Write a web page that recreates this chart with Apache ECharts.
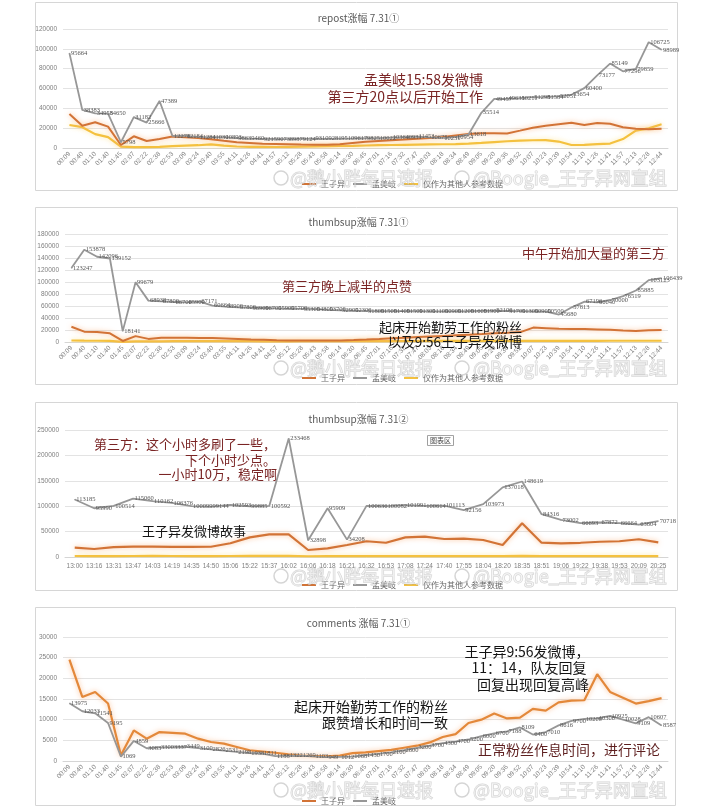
<!DOCTYPE html>
<html><head><meta charset="utf-8">
<script src="https://cdn.jsdelivr.net/npm/echarts/dist/echarts.min.js"></script>
<style>html,body{margin:0;padding:0;background:#fff}#c{width:717px;height:809px}</style>
</head><body><div id="c"></div>
<script>
// ---------- data ----------
const timesAM = ["00:09","00:40","01:10","01:40","01:45","02:07","02:22","02:38","02:53","03:09","03:24","03:40","03:55","04:11","04:26","04:41","04:57","05:12","05:28","05:43","05:58","06:14","06:30","06:45","07:01","07:16","07:32","07:47","08:03","08:18","08:34","08:49","09:05","09:20","09:36","09:52","10:07","10:23","10:39","10:54","11:10","11:26","11:41","11:57","12:13","12:28","12:44"];
const timesPM = ["13:00","13:16","13:31","13:47","14:03","14:19","14:35","14:50","15:06","15:22","15:37","16:02","16:06","16:18","16:21","16:32","16:53","17:08","17:24","17:40","17:55","18:04","18:20","18:35","18:51","19:06","19:22","19:38","19:53","20:09","20:25"];

const repostMeng = [95664,38383,34958,34650,5798,31182,25666,47389,12278,12184,11284,11030,10893,9863,9460,9215,9073,8987,9124,9310,9281,9510,9617,9825,10022,10364,10931,11453,10675,10231,10954,13618,35514,49457,49631,50211,51298,51584,52051,53654,60400,73177,85149,77296,79859,106725,98989];
const repostWang = [34300,22500,26000,21500,3000,11800,7000,9000,11500,10800,10000,8800,7200,5800,5000,4200,4000,3800,3500,3300,3400,3800,5000,6200,7000,7800,8500,9300,10000,11000,12500,14000,14800,14900,14700,17500,20500,22500,24000,25500,23200,25200,24500,21000,19500,18800,19500];
const repostRef  = [23200,21000,14000,11000,1300,800,900,1200,1800,2300,2800,3600,2400,1500,1200,1100,1000,1200,1400,1600,1800,2000,2200,2500,2800,3000,3200,3400,3600,3800,4000,4500,5200,6000,6800,7400,7800,8000,6500,3000,3200,4000,4500,9000,17500,19800,24000];

const thumbMeng = [123247,153878,142096,139152,18141,99679,68938,67800,66700,65900,67171,60664,58900,57800,56900,56700,55900,55700,55300,54800,53700,52900,52300,51800,51500,51400,51500,51300,51100,50900,51200,51600,51900,52100,51700,51300,50900,50500,45680,57813,67196,66040,70000,76519,85885,103123,106439];
const thumbWang = [25500,17200,16500,14400,1700,9800,5200,7000,7200,7000,6800,6500,5800,5000,4200,3600,3000,2600,2400,2300,2400,2700,3200,4000,5000,6200,7200,8200,9200,10200,11200,12200,13200,14400,15300,16500,24000,23000,22000,21800,21500,21000,20500,19000,18500,19500,20000];
const thumbRef  = [2500,2200,2100,2000,300,1200,900,1100,1300,1400,1500,1500,1400,1300,1300,1200,1200,1200,1300,1300,1400,1400,1500,1500,1600,1600,1700,1700,1800,1800,1800,1900,1900,1900,2000,2000,2000,2000,2000,2000,2000,2000,2100,2100,2100,2100,2100];

const thumb2Meng = [113185,95990,100514,115060,110162,106376,100099,99144,102593,99885,100592,233468,32898,95909,34208,100636,100082,101991,100614,101113,92156,103973,137018,148619,84316,73002,66693,67872,66664,63604,70718];
const thumb2Wang = [18300,15700,19500,20500,20500,20000,20000,20200,27000,38700,44600,44600,13800,17000,23600,31000,28000,38700,40000,35400,36000,33500,23600,66300,28200,27000,28000,30000,31000,35000,28800];
const thumb2Ref  = [2000,1800,1900,2000,2100,2000,1900,1900,2000,2100,2200,2200,1500,1600,1700,1800,1800,1900,1900,1900,1900,1900,1800,2200,1900,1800,1800,1800,1800,1900,1800];

const commentWang = [24500,15500,16700,13900,1400,7400,5400,7000,6800,6600,5400,4600,4200,3400,2600,2300,2000,1600,1300,1200,1100,1300,1900,2100,2400,2700,3200,3700,4500,5800,6500,9200,10000,11500,10300,10500,12600,12200,14200,14600,14700,21000,16700,15300,13900,14500,15200];
const commentMeng = [13975,12033,11541,9195,1069,4859,3083,3300,3337,3449,3100,2826,2531,2198,1938,1811,1188,1322,1269,1103,949,1012,1068,1430,1700,2100,2600,3200,3700,4300,4700,5200,6000,6700,7188,8109,6400,7010,8616,9700,10200,10300,10925,10028,9109,10607,8587];

const seriesNames = ["王子异","孟美岐","仅作为其他人参考数据"];
const titles = ["repost涨幅 7.31①","thumbsup涨幅 7.31①","thumbsup涨幅 7.31②","comments 涨幅 7.31①"];
const yMax = [120000,180000,250000,30000];
const yStep = [20000,20000,50000,5000];

// ---------- chart ----------
const CJK = '"Noto Sans CJK SC","Noto Sans",sans-serif';
const chart = echarts.init(document.getElementById('c'), null, {renderer:'canvas'});
const grids = [
  {left:63, top:29, width:605, height:119},
  {left:65, top:234, width:603, height:108},
  {left:65, top:430, width:603, height:127},
  {left:63, top:637, width:605, height:124}
];
const GRAY='#979797', ORANGE='#d27336', ORANGE4='#e3883a', YELLOW='#f4c13f';

function xa(i, data, rot){
  return {type:'category', gridIndex:i, data, boundaryGap:true,
    axisLine:{lineStyle:{color:'#d5d5d5'}}, axisTick:{show:false},
    axisLabel:{interval:0, rotate:rot?45:0, fontSize:6.5, color:'#808080', margin:rot?5:6, fontFamily:'"Liberation Sans",sans-serif'}};
}
function ya(i){
  return {type:'value', gridIndex:i, min:0, max:yMax[i], interval:yStep[i],
    axisLine:{show:false}, axisTick:{show:false},
    splitLine:{lineStyle:{color:'#e3e3e3'}},
    axisLabel:{fontSize:6.5, color:'#808080', margin:6, fontFamily:'"Liberation Sans",sans-serif',
      formatter: v => String(v)}};
}
function ln(name, data, i, color, width, glow, labels){
  return {name, type:'line', xAxisIndex:i, yAxisIndex:i, data,
    symbol:'circle', symbolSize:labels?1:0, showSymbol:!!labels,
    lineStyle:{color, width, shadowColor:glow||'rgba(0,0,0,0)', shadowBlur:glow?5:0},
    itemStyle:{color},
    label:{show:!!labels, position:'right', distance:1, fontSize:6.5, color:'#555',
      fontFamily:'"Liberation Serif",serif'},
    emphasis:{disabled:true}, z:labels?4:3, animation:false};
}
const GLOW_O='rgba(250,170,110,0.75)', GLOW_Y='rgba(255,225,130,0.8)';

const series = [
  ln(seriesNames[2], repostRef, 0, YELLOW, 2.2, GLOW_Y, false),
  ln(seriesNames[0], repostWang, 0, ORANGE, 2, GLOW_O, false),
  ln(seriesNames[1], repostMeng, 0, GRAY, 1.8, null, true),
  ln(seriesNames[2], thumbRef, 1, YELLOW, 2.2, GLOW_Y, false),
  ln(seriesNames[0], thumbWang, 1, ORANGE, 2, GLOW_O, false),
  ln(seriesNames[1], thumbMeng, 1, GRAY, 1.8, null, true),
  ln(seriesNames[2], thumb2Ref, 2, YELLOW, 2.2, GLOW_Y, false),
  ln(seriesNames[0], thumb2Wang, 2, ORANGE, 2.2, GLOW_O, false),
  ln(seriesNames[1], thumb2Meng, 2, GRAY, 1.8, null, true),
  ln(seriesNames[0], commentWang, 3, ORANGE4, 2.2, GLOW_O, false),
  ln(seriesNames[1], commentMeng, 3, GRAY, 1.8, null, true)
];

function T(text, x, y, size, color, align, extra){
  return Object.assign({type:'text', x, y, z:100, silent:true,
    style:{text, fontSize:size, fill:color, textAlign:align||'left', textVerticalAlign:'middle', fontFamily:CJK}}, extra||{});
}
const RED='#7a2424', BLACK='#141414';
const panels = [[35,2,642,188],[35,207,642,177],[35,402,642,188],[35,607,640,198]];
const graphics = [];
panels.forEach(p=>graphics.push({type:'rect', shape:{x:p[0]+0.5,y:p[1]+0.5,width:p[2],height:p[3]}, style:{fill:'rgba(0,0,0,0)', stroke:'#d6d6d6', lineWidth:1}, silent:true, z:1}));
// annotations
graphics.push(
  T('孟美岐15:58发微博', 483, 80, 14, RED, 'right'),
  T('第三方20点以后开始工作', 483, 97, 14, RED, 'right'),
  T('中午开始加大量的第三方', 665, 253, 13, RED, 'right'),
  T('第三方晚上减半的点赞', 282, 286, 13, RED, 'left'),
  T('起床开始勤劳工作的粉丝', 522, 327, 13, BLACK, 'right'),
  T('以及9:56王子异发微博', 522, 342, 13.5, BLACK, 'right'),
  T('第三方：这个小时多刷了一些，', 276, 444, 13, RED, 'right'),
  T('下个小时少点。', 276, 460, 13, RED, 'right'),
  T('一小时10万，稳定啊', 277, 474, 13, RED, 'right'),
  T('王子异发微博故事', 142, 531, 13, BLACK, 'left'),
  T('王子异9:56发微博，', 527, 652, 14, BLACK, 'center'),
  T('11：14，队友回复', 529, 668, 14, BLACK, 'center'),
  T('回复出现回复高峰', 533, 685, 14, BLACK, 'center'),
  T('起床开始勤劳工作的粉丝', 448, 707, 14, BLACK, 'right'),
  T('跟赞增长和时间一致', 448, 723, 14, BLACK, 'right'),
  T('正常粉丝作息时间，进行评论', 660, 750, 14, '#5e1f1f', 'right')
);
graphics.push({type:'text', x:428, y:436, z:100, silent:true,
  style:{text:'图表区', fontSize:7, fill:'#444', fontFamily:CJK, padding:[1,2], backgroundColor:'#fff', borderColor:'#888', borderWidth:0.8}});
// watermarks
[178, 368, 576, 790].forEach(y=>{
  const wm = {fill:'rgba(255,255,255,0.45)', stroke:'rgba(150,150,150,0.42)', lineWidth:1, fontSize:18, fontFamily:CJK, textVerticalAlign:'middle'};
  graphics.push({type:'circle', shape:{cx:281, cy:y, r:7}, style:{fill:'rgba(0,0,0,0)', stroke:'rgba(150,150,150,0.4)', lineWidth:1.5}, z:101, silent:true});
  graphics.push({type:'text', x:290, y, z:101, silent:true, style:Object.assign({text:'@鹅小胖每日速报'}, wm)});
  graphics.push({type:'circle', shape:{cx:462, cy:y, r:7}, style:{fill:'rgba(0,0,0,0)', stroke:'rgba(150,150,150,0.4)', lineWidth:1.5}, z:101, silent:true});
  graphics.push({type:'text', x:473, y, z:101, silent:true, style:Object.assign({text:'@Boogie_王子异网宣组'}, wm)});
});

const legTops = [175, 369, 576, 792];
const legends = legTops.map((t,i)=>({
  data: i===3 ? seriesNames.slice(0,2) : seriesNames,
  left: 297, top: t, icon:'rect', itemWidth:14, itemHeight:2, itemGap:8,
  textStyle:{fontSize:8, color:'#666', fontFamily:CJK}, selectedMode:false
}));

chart.setOption({
  backgroundColor:'#fff',
  animation:false,
  title: titles.map((t,i)=>({text:t, left:'center', top:[8,212,409,613][i],
    textStyle:{fontSize:10, fontWeight:'normal', color:'#5a5a5a', fontFamily:CJK}})),
  legend: legends,
  grid: grids,
  xAxis: [xa(0,timesAM,true), xa(1,timesAM,true), xa(2,timesPM,false), xa(3,timesAM,true)],
  yAxis: [ya(0), ya(1), ya(2), ya(3)],
  series,
  graphic: {elements: graphics}
});
</script></body></html>
